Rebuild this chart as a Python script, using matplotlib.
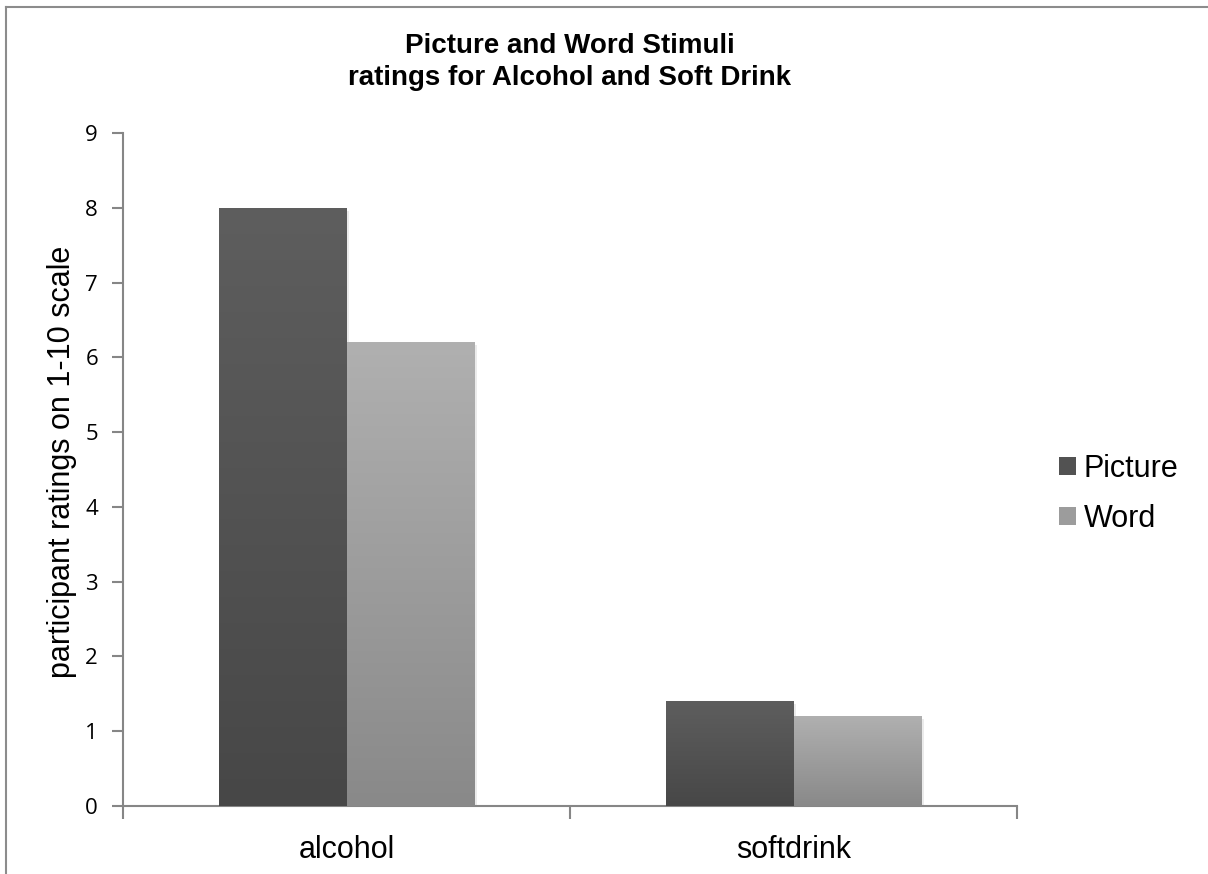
import numpy as np
import matplotlib
matplotlib.use('Agg')
import matplotlib.pyplot as plt
import matplotlib.patheffects as pe
from matplotlib.patches import Patch
from matplotlib.lines import Line2D

# ---- Data ----
categories = ['alcohol', 'softdrink']
series_names = ['Picture', 'Word']
picture_vals = [8.0, 1.4]
word_vals = [6.2, 1.2]

# gradient colours (top, bottom) per series
grad = {'Picture': ('#5e5e5e', '#474747'),
        'Word': ('#b0b0b0', '#898989')}
legend_cols = {'Picture': '#525252', 'Word': '#9c9c9c'}

W, H = 1208, 874
fig = plt.figure(figsize=(W / 100, H / 100), dpi=100)
ax = fig.add_axes([123 / W, 1 - 806 / H, (1017 - 123) / W, (806 - 133) / H])

x = np.arange(len(categories))
bw = 1 / 3.5
axis_grey = '#868686'


def gradient_fill(bars, top, bottom):
    c_top = np.array(matplotlib.colors.to_rgb(top))
    c_bot = np.array(matplotlib.colors.to_rgb(bottom))
    t = np.linspace(0, 1, 256)[:, None]
    img = (c_bot * (1 - t) + c_top * t)[:, None, :]
    for b in bars:
        x0, w, h = b.get_x(), b.get_width(), b.get_height()
        im = ax.imshow(img, extent=[x0, x0 + w, 0, h], origin='lower',
                       aspect='auto', zorder=3, interpolation='bilinear')
        im.set_clip_path(b)


for i, (name, vals) in enumerate(zip(series_names, [picture_vals, word_vals])):
    bars = ax.bar(x + (i - 0.5) * bw, vals, bw, color='white', linewidth=0,
                  zorder=2,
                  path_effects=[pe.SimplePatchShadow(offset=(2, -2), shadow_rgbFace='#b0b0b0', alpha=0.25)])
    gradient_fill(bars, *grad[name])

ax.set_xlim(-0.5, 1.5)
ax.set_ylim(0, 9)
ax.set_yticks(range(0, 10))
ax.set_xticks([-0.5, 0.5, 1.5])
ax.set_xticklabels([])
ax.set_xticks(x, minor=True)
ax.set_xticklabels(categories, minor=True, fontsize=22, family='Liberation Sans')
ax.tick_params(axis='x', which='minor', length=0, pad=21)
ax.tick_params(axis='x', which='major', length=9, width=1.5, color=axis_grey, direction='out')
ax.tick_params(axis='y', length=8, width=1.5, color=axis_grey, direction='out', pad=10,
               labelsize=16)
for lab in ax.get_yticklabels():
    lab.set_family('Open Sans')

for s in ['top', 'right']:
    ax.spines[s].set_visible(False)
for s in ['left', 'bottom']:
    ax.spines[s].set_color(axis_grey)
    ax.spines[s].set_linewidth(1.5)

fig.text(62 / W, 1 - 462 / H, 'participant ratings on 1-10 scale', rotation=90,
         ha='center', va='center', fontsize=22, family='Liberation Sans')

fig.text(570 / W, 1 - 62 / H, 'Picture and Word Stimuli\nratings for Alcohol and Soft Drink',
         ha='center', va='center', fontsize=20, fontweight='bold',
         family='Liberation Sans', linespacing=1.3)

handles = [Patch(facecolor=legend_cols[n], edgecolor='none') for n in series_names]
leg = fig.legend(handles, series_names, loc='center left',
                 bbox_to_anchor=(1059 / W, 1 - 494 / H), frameon=False,
                 prop={'family': 'Liberation Sans', 'size': 22},
                 handlelength=0.55, handleheight=0.55, handletextpad=0.25,
                 labelspacing=0.65, borderpad=0, borderaxespad=0)

# chart border (top and left edges visible)
fig.add_artist(Line2D([6 / W, 6 / W], [0, 1 - 6.5 / H], color='#8c8c8c', lw=1.5))
fig.add_artist(Line2D([6 / W, 1], [1 - 6.5 / H, 1 - 6.5 / H], color='#8c8c8c', lw=1.5))

fig.savefig('out.png', dpi=100)
